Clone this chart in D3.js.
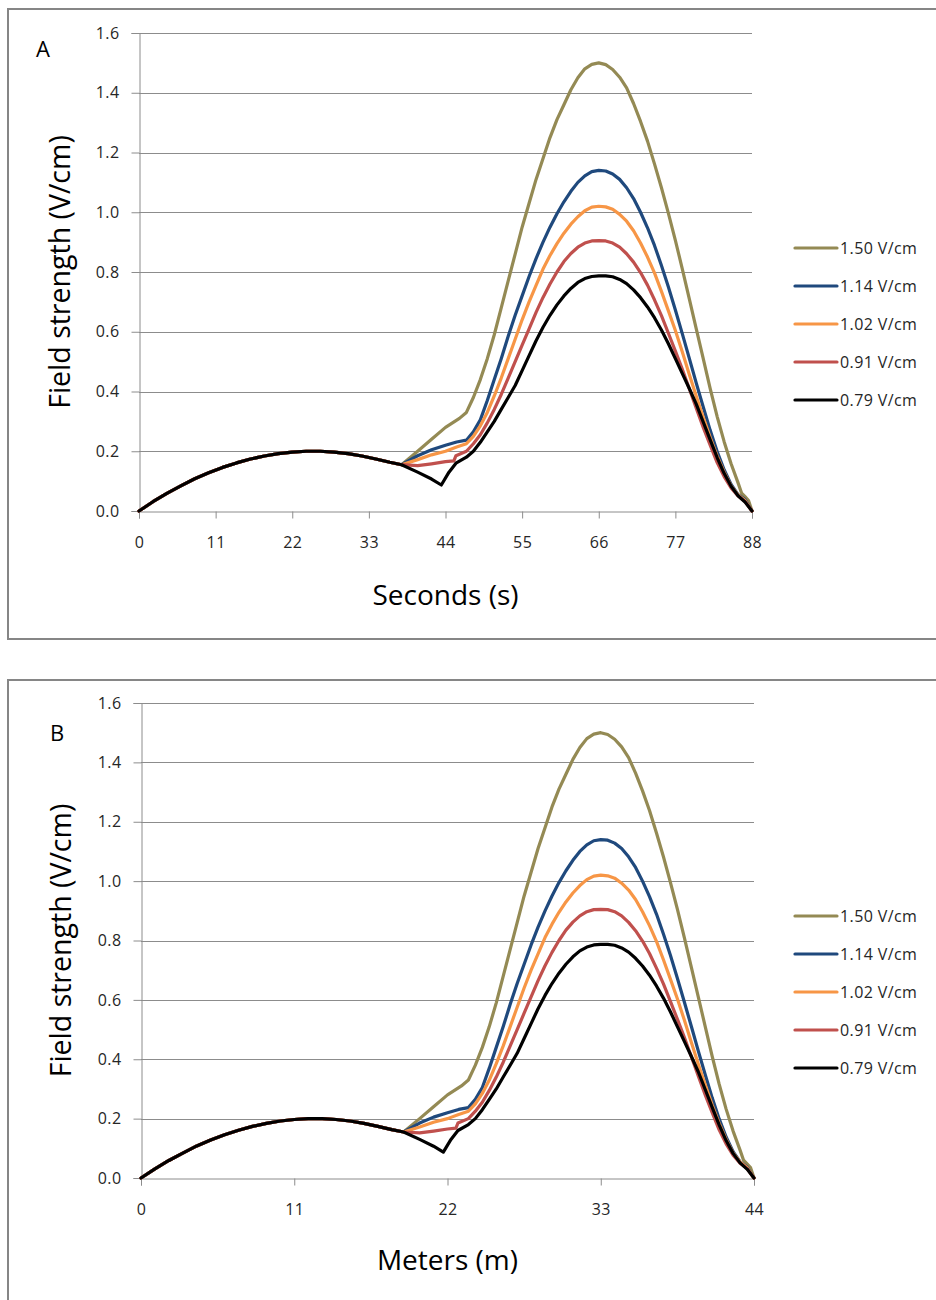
<!DOCTYPE html>
<html>
<head>
<meta charset="utf-8">
<script src="https://cdn.jsdelivr.net/npm/d3@7"></script>
<style>
  html, body { margin: 0; padding: 0; background: #fff; }
  svg { display: block; font-family: "Open Sans", Lato, "Liberation Sans", sans-serif; }
</style>
</head>
<body>
<svg id="chart" width="936" height="1300"></svg>
<script>
// Field strength over the ride (seconds), and over distance (metres = 0.5 m per second).
const seriesNames = ["1.50 V/cm", "1.14 V/cm", "1.02 V/cm", "0.91 V/cm", "0.79 V/cm"];
const seriesColors = ["#948A54", "#1F497D", "#F79646", "#C0504D", "#000000"];

// Shared arch before the curves separate (time s, field V/cm)
const sharedT = [0, 2, 4, 6, 8, 10, 12, 14, 16, 18, 20, 22, 24, 26, 28, 30, 32, 34, 36, 37.7];
const sharedV = [0, 0.031, 0.059, 0.084, 0.108, 0.128, 0.146, 0.161, 0.174, 0.184, 0.192, 0.197, 0.2, 0.2, 0.197, 0.192, 0.184, 0.174, 0.163, 0.155];

const olivT = [40, 42, 44, 45, 46, 47, 48, 49, 50, 51, 52, 53, 54, 55, 56, 57, 58, 59, 60, 61, 62, 63, 64, 65, 66, 67, 68, 69, 70, 71, 72, 73, 74, 75, 76, 77, 78, 79, 80, 81, 82, 83, 84, 85, 86, 86.5, 87, 87.5, 88];
const olivV = [0.2, 0.24, 0.28, 0.295, 0.31, 0.33, 0.38, 0.44, 0.51, 0.59, 0.68, 0.77, 0.86, 0.95, 1.03, 1.11, 1.18, 1.25, 1.31, 1.36, 1.41, 1.45, 1.48, 1.495, 1.5, 1.494, 1.478, 1.452, 1.416, 1.364, 1.304, 1.238, 1.162, 1.082, 0.996, 0.906, 0.81, 0.71, 0.61, 0.51, 0.41, 0.316, 0.232, 0.158, 0.094, 0.06, 0.048, 0.035, 0];

const blueT = [40, 42, 44, 45.6, 47, 48, 49, 50, 51, 52, 53, 54, 55, 56, 57, 58, 59, 60, 61, 62, 63, 64, 65, 66, 67, 68, 69, 70, 71, 72, 73, 74, 75, 76, 77, 78, 79, 80, 81, 82, 83, 84, 85, 86, 87, 88];
const blueV = [0.185, 0.205, 0.22, 0.231, 0.237, 0.265, 0.305, 0.37, 0.44, 0.51, 0.585, 0.655, 0.72, 0.785, 0.845, 0.9, 0.95, 0.995, 1.035, 1.07, 1.1, 1.122, 1.136, 1.14, 1.138, 1.128, 1.11, 1.082, 1.046, 1.0, 0.948, 0.889, 0.822, 0.75, 0.673, 0.593, 0.511, 0.428, 0.348, 0.27, 0.199, 0.138, 0.089, 0.055, 0.038, 0];

const orangeT = [40, 42, 44, 45.6, 47, 48, 49, 50, 51, 52, 53, 54, 55, 56, 57, 58, 59, 60, 61, 62, 63, 64, 65, 66, 67, 68, 69, 70, 71, 72, 73, 74, 75, 76, 77, 78, 79, 80, 81, 82, 83, 84, 85, 86, 87, 88];
const orangeV = [0.172, 0.188, 0.2, 0.214, 0.225, 0.25, 0.285, 0.33, 0.385, 0.445, 0.51, 0.575, 0.64, 0.7, 0.755, 0.81, 0.855, 0.895, 0.93, 0.96, 0.985, 1.005, 1.017, 1.02, 1.018, 1.01, 0.993, 0.97, 0.938, 0.897, 0.85, 0.797, 0.735, 0.67, 0.604, 0.532, 0.457, 0.384, 0.314, 0.246, 0.184, 0.13, 0.084, 0.054, 0.035, 0];

const redT = [40, 42, 44, 45.2, 45.5, 47, 48, 49, 50, 51, 52, 53, 54, 55, 56, 57, 58, 59, 60, 61, 62, 63, 64, 65, 66, 67, 68, 69, 70, 71, 72, 73, 74, 75, 76, 77, 78, 79, 80, 81, 82, 83, 84, 85, 86, 87, 88];
const redV = [0.152, 0.158, 0.165, 0.168, 0.185, 0.2, 0.225, 0.255, 0.295, 0.34, 0.39, 0.445, 0.5, 0.555, 0.61, 0.665, 0.715, 0.76, 0.8, 0.835, 0.862, 0.883, 0.897, 0.904, 0.905, 0.904, 0.897, 0.883, 0.861, 0.833, 0.798, 0.756, 0.707, 0.654, 0.595, 0.535, 0.474, 0.409, 0.344, 0.28, 0.22, 0.162, 0.115, 0.077, 0.05, 0.032, 0];

const blackT = [40, 42, 43.4, 44.5, 45.5, 47, 48, 49, 50, 51, 52, 53, 54, 55, 56, 57, 58, 59, 60, 61, 62, 63, 64, 65, 66, 67, 68, 69, 70, 71, 72, 73, 74, 75, 76, 77, 78, 79, 80, 81, 82, 83, 84, 85, 86, 87, 88];
const blackV = [0.13, 0.107, 0.087, 0.13, 0.16, 0.18, 0.2, 0.23, 0.265, 0.3, 0.34, 0.38, 0.42, 0.47, 0.52, 0.57, 0.615, 0.655, 0.69, 0.72, 0.745, 0.765, 0.778, 0.785, 0.787, 0.787, 0.784, 0.775, 0.761, 0.74, 0.714, 0.683, 0.647, 0.606, 0.56, 0.51, 0.46, 0.41, 0.358, 0.298, 0.238, 0.179, 0.126, 0.083, 0.051, 0.03, 0];

const seriesT = [olivT, blueT, orangeT, redT, blackT];
const seriesV = [olivV, blueV, orangeV, redV, blackV];

const yTicks = [0, 0.2, 0.4, 0.6, 0.8, 1.0, 1.2, 1.4, 1.6];
const secondTicks = [0, 11, 22, 33, 44, 55, 66, 77, 88];
const meterTicks = [0, 11, 22, 33, 44];
const metersPerSecond = 0.5;

function buildSeries(i, k) {
  const t = sharedT.concat(seriesT[i]);
  const v = sharedV.concat(seriesV[i]);
  return t.map((d, j) => ({ x: d * k, y: v[j] }));
}

const svg = d3.select("#chart");
const tickFont = "'Open Sans', Lato, sans-serif";

function panel(cfg) {
  const g = svg.append("g");
  // frame
  g.append("rect")
    .attr("x", cfg.box[0]).attr("y", cfg.box[1])
    .attr("width", cfg.box[2]).attr("height", cfg.box[3])
    .attr("fill", "none").attr("stroke", "#868686").attr("stroke-width", 2);

  const x = d3.scaleLinear().domain(cfg.xDomain).range([cfg.left, cfg.right]);
  const y = d3.scaleLinear().domain([0, 1.6]).range([cfg.bottom, cfg.top]);

  // horizontal gridlines
  g.append("g").selectAll("line").data(yTicks.slice(1)).join("line")
    .attr("x1", cfg.left).attr("x2", cfg.right)
    .attr("y1", d => Math.round(y(d)) + 0.5).attr("y2", d => Math.round(y(d)) + 0.5)
    .attr("stroke", "#8c8c8c").attr("stroke-width", 1);

  // y axis
  const yAxis = g.append("g")
    .attr("transform", `translate(${cfg.left + 0.5},0)`)
    .call(d3.axisLeft(y).tickValues(yTicks).tickFormat(d3.format(".1f")).tickSize(8).tickPadding(12));
  yAxis.select(".domain").attr("stroke", "#8c8c8c");
  yAxis.selectAll(".tick line").attr("stroke", "#8c8c8c");
  yAxis.selectAll(".tick text").attr("font-size", 16).attr("fill", "#262626")
    .attr("letter-spacing", 0.4).attr("font-family", tickFont);

  // x axis
  const xAxis = g.append("g")
    .attr("transform", `translate(0,${cfg.bottom + 0.5})`)
    .call(d3.axisBottom(x).tickValues(cfg.xTicks).tickFormat(d3.format("d")).tickSize(7).tickPadding(18));
  xAxis.select(".domain").attr("stroke", "#8c8c8c");
  xAxis.selectAll(".tick line").attr("stroke", "#8c8c8c");
  xAxis.selectAll(".tick text").attr("font-size", 16).attr("fill", "#262626")
    .attr("letter-spacing", 0.4).attr("font-family", tickFont);

  // series lines
  const line = d3.line().x(d => x(d.x)).y(d => y(d.y)).curve(d3.curveLinear);
  seriesNames.forEach((name, i) => {
    g.append("path")
      .datum(buildSeries(i, cfg.k))
      .attr("d", line)
      .attr("fill", "none")
      .attr("stroke", seriesColors[i])
      .attr("stroke-width", 3.2)
      .attr("stroke-linejoin", "round")
      .attr("stroke-linecap", "round");
  });

  // panel letter
  g.append("text").attr("x", cfg.letterPos[0]).attr("y", cfg.letterPos[1])
    .attr("font-size", 22).attr("fill", "#000").text(cfg.letter);

  // axis titles
  g.append("text")
    .attr("x", (cfg.left + cfg.right) / 2).attr("y", cfg.xTitleY)
    .attr("text-anchor", "middle").attr("font-size", 28).attr("fill", "#000")
    .text(cfg.xTitle);
  g.append("text")
    .attr("transform", `translate(${cfg.yTitleX},${(cfg.top + cfg.bottom) / 2}) rotate(-90)`)
    .attr("text-anchor", "middle").attr("font-size", 28.5).attr("fill", "#000")
    .text("Field strength (V/cm)");

  // legend
  const lg = g.append("g").attr("transform", `translate(795,${cfg.legendTop})`);
  seriesNames.forEach((name, i) => {
    const row = lg.append("g").attr("transform", `translate(0,${i * 38})`);
    row.append("line").attr("x1", 0).attr("x2", 42).attr("y1", 0).attr("y2", 0)
      .attr("stroke", seriesColors[i]).attr("stroke-width", 3.2).attr("stroke-linecap", "round");
    row.append("text").attr("x", 45).attr("y", 6).attr("font-size", 16)
      .attr("letter-spacing", 0.4).attr("fill", "#262626").text(name);
  });
}

panel({
  box: [8, 9, 940, 630], xDomain: [0, 88], xTicks: secondTicks, k: 1,
  left: 139, right: 752, top: 33, bottom: 511,
  letter: "A", letterPos: [36, 57],
  xTitle: "Seconds (s)", xTitleY: 605, yTitleX: 70, legendTop: 248
});

panel({
  box: [8, 680, 940, 640], xDomain: [0, 44], xTicks: meterTicks, k: metersPerSecond,
  left: 141, right: 754, top: 703, bottom: 1178,
  letter: "B", letterPos: [50, 741],
  xTitle: "Meters (m)", xTitleY: 1270, yTitleX: 71, legendTop: 916
});
</script>
</body>
</html>
